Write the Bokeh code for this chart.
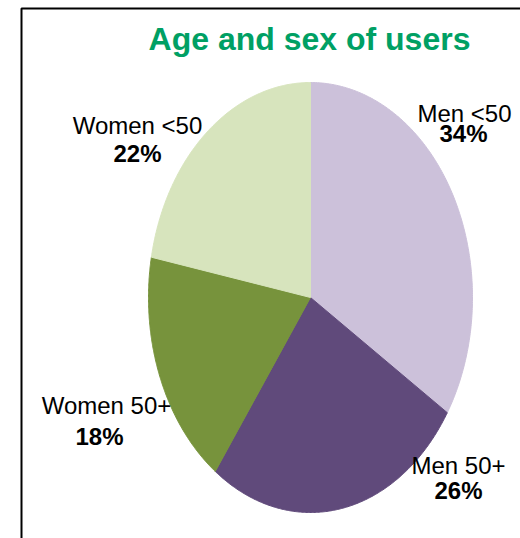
import numpy as np
from bokeh.plotting import figure
from bokeh.models import ColumnDataSource
from bokeh.core.properties import value
from bokeh.embed import file_html
from bokeh.resources import INLINE

# ---- data ----
categories = ["Men <50", "Men 50+", "Women 50+", "Women <50"]
shares = [34, 26, 18, 22]
colors = ["#CCC1DA", "#604A7B", "#77933C", "#D7E4BD"]
title_text = "Age and sex of users"

W, H = 520, 538

p = figure(width=W, height=H, x_range=(0, W), y_range=(0, H),
           output_backend="svg", toolbar_location=None, min_border=0)
p.axis.visible = False
p.grid.visible = False
p.outline_line_color = None
p.background_fill_color = "white"
p.border_fill_color = "white"

def Y(py):
    return H - py

# frame (left and top border visible)
p.line([21, 21, W + 10], [Y(H + 10), Y(8), Y(8)], line_color="black", line_width=2)

# pie (elliptical), clockwise from 12 o'clock
cx, cy, rx, ry = 310, Y(297), 162, 215
total = float(sum(shares))
fr = np.cumsum([0] + shares) / total
xs, ys = [], []
for i in range(len(shares)):
    a0, a1 = 2 * np.pi * fr[i], 2 * np.pi * fr[i + 1]
    t = np.linspace(a0, a1, 200)
    px = [cx] + list(cx + rx * np.sin(t)) + [cx]
    py = [cy] + list(cy + ry * np.cos(t)) + [cy]
    xs.append(px)
    ys.append(py)
src = ColumnDataSource(dict(xs=xs, ys=ys, color=colors))
p.patches("xs", "ys", source=src, fill_color="color", line_color="color", line_width=1)

# labels (layout positions, pixel baselines)
fs = 24
off = 0.31 * fs
lab_x = [464, 458, 106, 137]
lab_y1 = [120, 472, 412, 132]
pct_x = [463, 458, 99, 137]
pct_y = [140, 497, 443, 160]
name_src = ColumnDataSource(dict(x=lab_x, y=[Y(v - off) for v in lab_y1], t=categories))
pct_src = ColumnDataSource(dict(x=pct_x, y=[Y(v - off) for v in pct_y],
                                t=["%d%%" % s for s in shares]))
p.text("x", "y", text="t", source=name_src, text_font=value("Liberation Sans"),
       text_font_size="%dpx" % fs, text_align="center", text_baseline="alphabetic",
       text_color="black")
p.text("x", "y", text="t", source=pct_src, text_font=value("Liberation Sans"),
       text_font_size="%dpx" % fs, text_font_style="bold", text_align="center",
       text_baseline="alphabetic", text_color="black")

# title
p.text(x=[309], y=[Y(48 - 10)], text=[title_text], text_font=value("Liberation Sans"),
       text_font_size="32px", text_font_style="bold", text_align="center",
       text_baseline="alphabetic", text_color="#00A064")

open("out.html", "w").write(file_html(p, INLINE))
